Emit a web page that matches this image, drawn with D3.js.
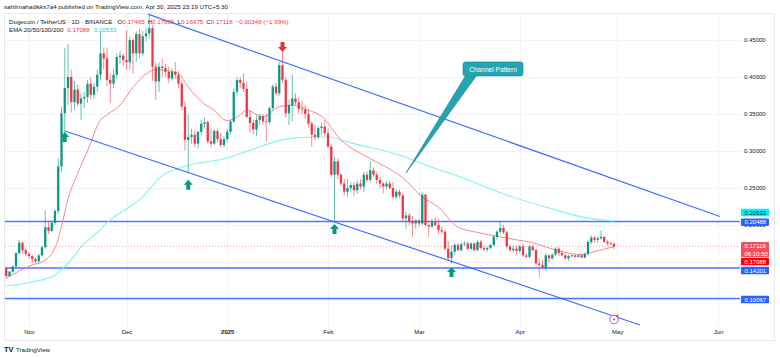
<!DOCTYPE html>
<html><head><meta charset="utf-8">
<script src="https://cdn.jsdelivr.net/npm/d3@7"></script>
<style>
body{margin:0;background:#fff}
svg{display:block;font-family:"Liberation Sans",Arial,sans-serif}
</style>
</head><body>
<svg id="c" width="780" height="358"></svg>
<script>
// ---------- DATA ----------
const firstDay = "2024-10-25";
const open = [
.141,.131,.137,.144,.162,.176,.166,.161,.158,.154,
.151,.159,.170,.197,.192,.203,.219,.279,.351,.385,
.400,.366,.383,.364,.371,.373,.391,.376,.387,.403,
.432,.425,.396,.391,.403,.427,.429,.423,.420,.450,
.432,.458,.432,.455,.459,.466,.414,.394,.414,.412,
.407,.398,.407,.403,.391,.360,.315,.319,.322,.310,
.326,.337,.339,.313,.310,.327,.316,.308,.316,.326,
.340,.380,.396,.392,.384,.346,.338,.329,.342,.347,
.340,.339,.358,.387,.378,.416,.396,.351,.362,.371,
.366,.357,.356,.350,.337,.322,.319,.331,.333,.324,
.306,.268,.286,.268,.256,.245,.250,.254,.247,.256,
.252,.268,.261,.274,.268,.261,.256,.252,.256,.250,
.238,.245,.240,.209,.213,.205,.202,.206,.202,.241,
.200,.198,.204,.200,.193,.191,.168,.155,.164,.173,
.166,.174,.175,.168,.175,.166,.177,.169,.167,.169,
.173,.184,.191,.196,.190,.171,.166,.168,.165,.171,
.159,.157,.171,.166,.148,.146,.142,.159,.155,.160,
.168,.162,.159,.155,.158,.159,.157,.159,.156,.161,
.177,.183,.180,.182,.184,.177,.175,.17465];
const high = [
.144,.138,.145,.163,.180,.178,.169,.164,.160,.157,
.161,.172,.220,.205,.205,.222,.290,.360,.439,.445,
.410,.395,.390,.378,.380,.396,.400,.392,.410,.461,
.440,.440,.405,.410,.432,.435,.432,.463,.455,.452,
.462,.465,.462,.466,.484,.470,.420,.420,.425,.418,
.414,.412,.420,.408,.395,.368,.349,.330,.328,.327,
.342,.345,.341,.330,.330,.330,.325,.320,.330,.342,
.385,.400,.400,.405,.394,.355,.342,.348,.350,.350,
.350,.360,.390,.392,.420,.436,.400,.370,.403,.378,
.372,.368,.362,.356,.340,.336,.334,.338,.342,.330,
.310,.292,.290,.270,.262,.262,.258,.258,.260,.262,
.272,.272,.286,.278,.272,.265,.258,.260,.260,.258,
.248,.248,.242,.218,.216,.212,.208,.208,.244,.242,
.206,.208,.210,.208,.198,.193,.178,.172,.176,.176,
.176,.178,.178,.177,.176,.180,.180,.172,.171,.175,
.186,.193,.205,.200,.192,.174,.172,.172,.173,.175,
.162,.174,.173,.168,.155,.153,.162,.160,.162,.170,
.170,.166,.162,.160,.160,.160,.160,.160,.163,.180,
.186,.185,.185,.193,.185,.180,.178,.17665];
const low = [
.128,.130,.135,.142,.160,.162,.158,.155,.149,.148,
.149,.157,.168,.188,.190,.200,.215,.272,.325,.362,
.352,.355,.360,.342,.358,.365,.370,.370,.380,.395,
.410,.388,.365,.385,.398,.418,.415,.410,.410,.405,
.420,.425,.428,.448,.452,.395,.369,.380,.400,.400,
.392,.395,.398,.385,.355,.301,.270,.310,.305,.303,
.322,.330,.310,.305,.308,.312,.305,.305,.312,.322,
.338,.375,.385,.380,.345,.325,.322,.320,.335,.336,
.313,.336,.355,.375,.375,.392,.345,.335,.340,.362,
.350,.350,.343,.332,.306,.314,.316,.322,.320,.304,
.265,.204,.262,.252,.240,.238,.244,.240,.242,.248,
.245,.258,.258,.265,.256,.250,.243,.248,.248,.235,
.235,.236,.205,.195,.200,.184,.195,.198,.200,.198,
.184,.196,.198,.188,.188,.165,.152,.148,.160,.165,
.164,.172,.166,.166,.165,.165,.167,.165,.164,.167,
.171,.180,.188,.188,.168,.164,.163,.160,.162,.157,
.155,.155,.165,.146,.130,.140,.138,.150,.153,.158,
.158,.158,.153,.152,.156,.156,.156,.155,.155,.158,
.174,.176,.176,.180,.176,.172,.173,.16675];
const close = [
.131,.137,.144,.162,.176,.166,.161,.158,.154,.151,
.159,.170,.197,.192,.203,.219,.279,.351,.385,.400,
.366,.383,.364,.371,.373,.391,.376,.387,.403,.432,
.425,.396,.391,.403,.427,.429,.423,.420,.450,.432,
.458,.432,.455,.459,.466,.414,.394,.414,.412,.407,
.398,.407,.403,.391,.360,.315,.319,.322,.310,.326,
.337,.339,.313,.310,.327,.316,.308,.316,.326,.340,
.380,.396,.392,.384,.346,.338,.329,.342,.347,.340,
.339,.358,.387,.378,.416,.396,.351,.362,.371,.366,
.357,.356,.350,.337,.322,.319,.331,.333,.324,.306,
.268,.286,.268,.256,.245,.250,.254,.247,.256,.252,
.268,.261,.274,.268,.261,.256,.252,.256,.250,.238,
.245,.240,.209,.213,.205,.202,.206,.202,.241,.200,
.198,.204,.200,.193,.191,.168,.155,.164,.173,.166,
.174,.175,.168,.175,.166,.177,.169,.167,.169,.173,
.184,.191,.196,.190,.171,.166,.168,.165,.171,.159,
.157,.171,.166,.148,.146,.142,.159,.155,.160,.168,
.162,.159,.155,.158,.159,.157,.159,.156,.161,.177,
.183,.180,.182,.184,.177,.175,.17465,.17118];

const ema20Dates = ["2024-10-25","2024-11-02","2024-11-05","2024-11-09","2024-11-11","2024-11-13","2024-11-16","2024-11-19","2024-11-23","2024-11-25","2024-11-29","2024-12-03","2024-12-07","2024-12-10","2024-12-17","2024-12-19","2024-12-21","2024-12-24","2024-12-28","2025-01-01","2025-01-04","2025-01-07","2025-01-12","2025-01-17","2025-01-21","2025-01-26","2025-01-30","2025-02-05","2025-02-13","2025-02-19","2025-02-24","2025-03-02","2025-03-07","2025-03-13","2025-03-19","2025-03-26","2025-03-31","2025-04-05","2025-04-10","2025-04-14","2025-04-20","2025-04-24","2025-04-30"];
const ema20Values = [.128,.146,.150,.169,.198,.235,.270,.300,.342,.349,.362,.386,.404,.410,.405,.393,.381,.367,.355,.341,.346,.355,.346,.360,.362,.355,.347,.315,.292,.278,.264,.238,.224,.197,.190,.184,.180,.176,.169,.164,.160,.164,.17088];
const ema100Dates = ["2024-10-25","2024-11-02","2024-11-09","2024-11-11","2024-11-14","2024-11-17","2024-11-22","2024-11-26","2024-12-01","2024-12-05","2024-12-08","2024-12-11","2024-12-18","2025-01-01","2025-01-08","2025-01-18","2025-01-27","2025-02-01","2025-02-08","2025-02-23","2025-03-05","2025-03-13","2025-03-28","2025-04-10","2025-04-20","2025-04-30"];
const ema100Values = [.1176,.123,.132,.140,.153,.170,.190,.207,.222,.234,.248,.263,.278,.2905,.301,.315,.319,.319,.311,.2946,.278,.266,.2405,.223,.211,.20533];

const priceTicks = [0.10,0.15,0.20,0.25,0.30,0.35,0.40,0.45];
const monthTicks = ["2024-11-01","2024-12-01","2025-01-01","2025-02-01","2025-03-01","2025-04-01","2025-05-01","2025-06-01"];
const monthLabels = ["Nov","Dec","2025","Feb","Mar","Apr","May","Jun"];
const levelPrices = [0.20488, 0.14201, 0.10067];
const lastPrice = 0.17118;
const upperChannelDates = ["2024-12-07T14:24","2025-06-01T14:24"];
const upperChannelPrices = [0.485, 0.2115];
const lowerChannelDates = ["2024-11-12T02:00","2025-05-08T00:00"];
const lowerChannelPrices = [0.327, 0.0649];
const upArrowDates = ["2024-11-12","2024-12-20","2025-02-03","2025-03-11"];
const upArrowPrices = [0.3257, 0.261, 0.2014, 0.1432];
const downArrowDates = ["2025-01-18"];
const downArrowPrices = [0.4338];
const calloutText = "Channel Pattern";
const calloutBoxDate = "2025-03-14T13:00", calloutBoxPrice = 0.4203;
const calloutTipDate = "2025-02-25T00:00", calloutTipPrice = 0.2703;
const tagValues = [0.20533, 0.20488, 0.17118, 0.17088, 0.14201, 0.10067];
const tagLabels = ["0.20533","0.20488","0.17118","0.17088","0.14201","0.10067"];

// ---------- SETUP ----------
const svg = d3.select("#c");
const pD = d3.utcParse("%Y-%m-%d");
const pT = d3.utcParse("%Y-%m-%dT%H:%M");
const start = pD(firstDay);
const dates = d3.utcDay.range(start, d3.utcDay.offset(start, close.length));
const x = d3.scaleUtc().domain([pD("2024-11-01"), pD("2025-06-01")]).range([29, 718]);
const y = d3.scaleLinear().domain([0.10, 0.45]).range([299, 40]);
const UP = "#089981", DN = "#f23645", BLUE = "#2962ff";
const plotR = 740;

svg.append("defs").append("clipPath").attr("id","clip")
  .append("rect").attr("x",5).attr("y",13.5).attr("width",plotR-5).attr("height",313);

// frame
svg.append("rect").attr("x",4.5).attr("y",13.5).attr("width",770).attr("height",327)
  .attr("fill","none").attr("stroke","#e6e8ee").attr("stroke-width",1);

// grid
const grid = svg.append("g").attr("clip-path","url(#clip)");
grid.selectAll("line.h").data(priceTicks).join("line")
  .attr("x1",5).attr("x2",plotR).attr("y1",d=>Math.round(y(d))+0.5).attr("y2",d=>Math.round(y(d))+0.5)
  .attr("stroke","#f0f3fa");
grid.selectAll("line.v").data(monthTicks).join("line")
  .attr("y1",13.5).attr("y2",326).attr("x1",d=>Math.round(x(pD(d)))+0.5).attr("x2",d=>Math.round(x(pD(d)))+0.5)
  .attr("stroke","#f0f3fa");

const plot = svg.append("g").attr("clip-path","url(#clip)");

// horizontal levels
plot.selectAll("line.lvl").data(levelPrices).join("line")
  .attr("x1",5).attr("x2",plotR).attr("y1",d=>y(d)).attr("y2",d=>y(d))
  .attr("stroke",BLUE).attr("stroke-width",1.5).attr("opacity",0.85);
// last price dotted
plot.append("line").attr("x1",5).attr("x2",plotR).attr("y1",y(lastPrice)).attr("y2",y(lastPrice))
  .attr("stroke",DN).attr("stroke-opacity",0.45).attr("stroke-dasharray","1,2");

// EMA lines
const emaLine = d3.line().x(d=>x(d[0])).y(d=>y(d[1])).curve(d3.curveMonotoneX);
plot.append("path").datum(ema100Dates.map((d,i)=>[pD(d),ema100Values[i]]))
  .attr("d",emaLine).attr("fill","none").attr("stroke","#7ff3f8").attr("stroke-width",1.1);
plot.append("path").datum(ema20Dates.map((d,i)=>[pD(d),ema20Values[i]]))
  .attr("d",emaLine).attr("fill","none").attr("stroke","#f7878b").attr("stroke-width",1);

// candles
const candles = dates.map((d,i)=>({d, o:open[i], h:high[i], l:low[i], c:close[i]}));
const cg = plot.append("g");
cg.selectAll("line.w").data(candles).join("line")
  .attr("x1",d=>x(d.d)).attr("x2",d=>x(d.d)).attr("y1",d=>y(d.h)).attr("y2",d=>y(d.l))
  .attr("stroke",d=>d.c>=d.o?UP:DN).attr("stroke-width",0.8).attr("stroke-opacity",0.75);
cg.selectAll("rect").data(candles).join("rect")
  .attr("x",d=>x(d.d)-1.15).attr("width",2.3)
  .attr("y",d=>y(Math.max(d.o,d.c))).attr("height",d=>Math.max(0.8,Math.abs(y(d.o)-y(d.c))))
  .attr("fill",d=>d.c>=d.o?UP:DN);

// channel lines
const chLine = d3.line().x(d=>x(d[0])).y(d=>y(d[1]));
[[upperChannelDates,upperChannelPrices],[lowerChannelDates,lowerChannelPrices]].forEach(([ds,ps])=>{
  plot.append("path").datum(ds.map((d,i)=>[pT(d),ps[i]])).attr("d",chLine)
    .attr("fill","none").attr("stroke",BLUE).attr("stroke-width",1.2).attr("opacity",0.9);
});

// arrows
const upPath = "M0,0 L4.5,5 L2,5 L2,10 L-2,10 L-2,5 L-4.5,5 Z";
svg.selectAll("path.ua").data(upArrowDates).join("path")
  .attr("d",upPath).attr("fill",UP)
  .attr("transform",(d,i)=>`translate(${x(pD(d))},${y(upArrowPrices[i])})`);
svg.selectAll("path.da").data(downArrowDates).join("path")
  .attr("d",upPath).attr("fill","#e8323f")
  .attr("transform",(d,i)=>`translate(${x(pD(d))},${y(downArrowPrices[i])}) scale(1,-1)`);

// callout
const bx = x(pT(calloutBoxDate)), by = y(calloutBoxPrice);
const tx = x(pT(calloutTipDate)), ty = y(calloutTipPrice);
const cgp = svg.append("g");
cgp.append("path").attr("d",`M${bx+3},${by+13} L${bx+14},${by+13} L${tx},${ty} Z`)
  .attr("fill","#25a5b2").attr("stroke","#15808d").attr("stroke-width",0.6);
cgp.append("rect").attr("x",bx).attr("y",by).attr("width",60).attr("height",14).attr("rx",2.5)
  .attr("fill","#25a5b2").attr("stroke","#15808d").attr("stroke-width",0.6);
cgp.append("rect").attr("x",bx+3.3).attr("y",by+12).attr("width",10.4).attr("height",2).attr("fill","#25a5b2");
cgp.append("text").attr("x",bx+30).attr("y",by+9.6).attr("text-anchor","middle")
  .attr("fill","#fff").attr("font-size",6.6).text(calloutText);

// event marker
const ex = x(dates[dates.length-1]);
svg.append("circle").attr("cx",ex).attr("cy",319.5).attr("r",4.3).attr("fill","#fff").attr("stroke","#ab47bc").attr("stroke-width",0.9);
svg.append("path").attr("d",`M${ex+0.8},${316.5} L${ex-1.3},${320} L${ex+0.3},${320} L${ex-0.8},${322.5} L${ex+1.5},${318.8} L${ex},${318.8} Z`).attr("fill","#ab47bc");
svg.append("circle").attr("cx",ex+3.3).attr("cy",316).attr("r",1.2).attr("fill","#f23645");

// right axis
const ra = svg.append("g").attr("transform",`translate(744,0)`)
  .call(d3.axisRight(y).tickValues(priceTicks).tickFormat(d3.format(".5f")).tickSize(0).tickPadding(0));
ra.select(".domain").remove();
ra.selectAll("text").attr("font-family","Liberation Sans, Arial, sans-serif").attr("font-size",6).attr("fill","#131722");

// bottom axis
const ba = svg.append("g").attr("transform","translate(0,330)")
  .call(d3.axisBottom(x).tickValues(monthTicks.map(pD)).tickFormat((d,i)=>monthLabels[i]).tickSize(0).tickPadding(0));
ba.select(".domain").remove();
ba.selectAll("text").attr("font-family","Liberation Sans, Arial, sans-serif").attr("font-size",6).attr("fill","#131722")
  .attr("font-weight",(d,i)=>monthLabels[i]==="2025"?"bold":"normal");

// price tags
const tagStyle = [
  {bg:"#00f0ff", fg:"#131722", shift:-8.5, h:7.6},
  {bg:BLUE, fg:"#fff", shift:0.8, h:7.6},
  {bg:"#f4505c", fg:"#fff", shift:0, h:15},
  {bg:"#ff0000", fg:"#fff", shift:15, h:7.6},
  {bg:BLUE, fg:"#fff", shift:2.6, h:7.6},
  {bg:BLUE, fg:"#fff", shift:1, h:7.6}
];
const tg = svg.append("g");
tagValues.forEach((v,i)=>{
  const s = tagStyle[i];
  const cy = y(v) + s.shift;
  const top = s.h > 10 ? cy - 4.3 : cy - s.h/2;
  tg.append("rect").attr("x",741).attr("y",top).attr("width",28).attr("height",s.h).attr("rx",0.8).attr("fill",s.bg);
  tg.append("text").attr("x",744.5).attr("y",(s.h>10?cy:cy)+2.1).attr("font-size",6).attr("fill",s.fg).text(tagLabels[i]);
  if (s.h > 10) tg.append("text").attr("x",744.5).attr("y",cy+9.4).attr("font-size",6).attr("fill",s.fg).text("06:10:50");
});

// header & legend
svg.append("text").attr("x",4).attr("y",8.9).attr("font-size",6.2).attr("fill","#131722")
  .text("sahilmahadikks7a4 published on TradingView.com, Apr 30, 2025 23:19 UTC+5:30");
const l1 = svg.append("text").attr("x",9).attr("y",23.9).attr("font-size",6.2).attr("fill","#131722");
l1.append("tspan").text("Dogecoin / TetherUS · 1D · BINANCE");
[["O","0.17465"],["H","0.17665"],["L","0.16675"],["C","0.17118"]].forEach(([k,v],i)=>{
  l1.append("tspan").attr("dx", i===0?5:3).text(k);
  l1.append("tspan").attr("fill",DN).text(v);
});
l1.append("tspan").attr("dx",3).attr("fill",DN).text("−0.00348 (−1.99%)");
const l2 = svg.append("text").attr("x",9).attr("y",31.6).attr("font-size",6.2).attr("fill","#131722");
l2.append("tspan").text("EMA 20/50/100/200");
l2.append("tspan").attr("dx",4).attr("fill",DN).text("0.17088");
l2.append("tspan").attr("dx",4).attr("fill","#00d5e0").text("0.20533");

// footer logo
const ft = svg.append("g");
ft.append("text").attr("x",4).attr("y",352).attr("font-size",7.5).attr("font-weight","bold").attr("fill","#131722").text("TV");
ft.append("text").attr("x",16).attr("y",352).attr("font-size",6.2).attr("fill","#131722").text("TradingView");
</script>
</body></html>
